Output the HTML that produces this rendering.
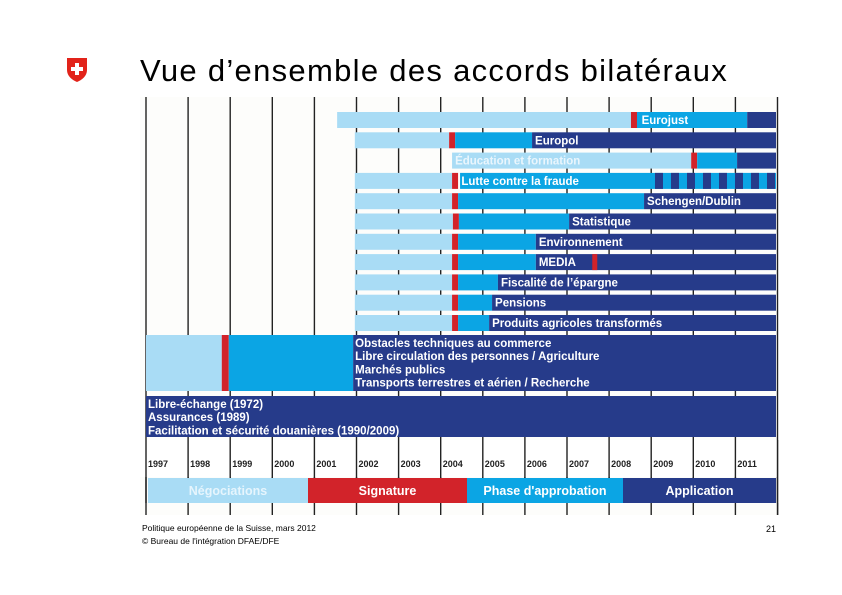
<!DOCTYPE html>
<html><head><meta charset="utf-8">
<style>
html,body{margin:0;padding:0;background:#fff;}
body{width:842px;height:595px;position:relative;overflow:hidden;font-family:"Liberation Sans",Arial,sans-serif;}
#title{position:absolute;left:140px;top:54px;font-size:31px;line-height:34px;color:#000;white-space:nowrap;letter-spacing:1.3px;}
.foot{position:absolute;font-size:8.5px;color:#000;white-space:nowrap;}
</style></head>
<body>
<svg style="position:absolute;left:66px;top:57px" width="22" height="26" viewBox="0 0 22 26">
<path d="M1 1 H21 V13 C21 19 16 23 11 25 C6 23 1 19 1 13 Z" fill="#e2231a"/>
<rect x="9" y="6" width="4" height="12" fill="#fff"/><rect x="5" y="10" width="12" height="4" fill="#fff"/>
</svg>
<div id="title">Vue d’ensemble des accords bilatéraux</div>
<svg id="chart" style="position:absolute;left:0;top:0" width="842" height="595"></svg>
<div class="foot" style="left:142px;top:523px">Politique européenne de la Suisse, mars 2012</div>
<div class="foot" style="left:142px;top:536px">© Bureau de l'intégration DFAE/DFE</div>
<div class="foot" style="left:766px;top:524px;font-size:9px">21</div>
<script>
// Data
const years = [1997,1998,1999,2000,2001,2002,2003,2004,2005,2006,2007,2008,2009,2010,2011];
const rowNames = ["Eurojust","Europol","Éducation et formation","Lutte contre la fraude","Schengen/Dublin","Statistique","Environnement","MEDIA","Fiscalité de l’épargne","Pensions","Produits agricoles transformés"];
// phase boundaries (decimal years)
const negStart  = [2001.54,2001.96,2004.27,2001.96,2001.96,2001.96,2001.96,2001.96,2001.96,2001.96,2001.96];
const signDate  = [2008.52,2004.2,2009.95,2004.27,2004.27,2004.29,2004.27,2004.27,2004.27,2004.27,2004.27];
const applStart = [2011.28,2006.17,2011.04,2012.0,2008.83,2007.05,2006.26,2006.26,2005.36,2005.22,2005.15];
const labelYear = [2008.7,2006.17,2004.27,2004.42,2008.83,2007.05,2006.26,2006.26,2005.36,2005.22,2005.15];
const lightLabel = [false,false,true,false,false,false,false,false,false,false,false];
const extraRed  = [null,null,null,null,null,null,null,2007.6,null,null,null];
const striped   = [false,false,false,true,false,false,false,false,false,false,false];
const stripeStart = 2009.09;
const bilat1 = {neg:1997.0, sign:1998.8, appl:1999.95+1.97};
const bilat1Lines = ["Obstacles techniques au commerce","Libre circulation des personnes / Agriculture","Marchés publics","Transports terrestres et aérien / Recherche"];
const oldLines = ["Libre-échange  (1972)","Assurances (1989)","Facilitation et sécurité douanières (1990/2009)"];
const legendLabels = ["Négociations","Signature","Phase d'approbation","Application"];

const C={light:"#a9dcf5",mid:"#0ba5e4",dark:"#263b8a",red:"#d2232a"};
const X0=146, PX=42.1, XEND=776;
const x = y => X0+(y-1997)*PX;
const rowTop = i => 112+i*20.3, rowH=16;
const svg=document.getElementById('chart');
const NS="http://www.w3.org/2000/svg";
function mk(tag,attrs,parent){const e=document.createElementNS(NS,tag);for(const k in attrs)e.setAttribute(k,attrs[k]);(parent||svg).appendChild(e);return e;}
function rect(x1,y,x2,h,fill,name){const r=mk('rect',{x:x1,y:y,width:Math.max(0,x2-x1),height:h,fill:fill});


return r;}
function txt(s,xx,yy,size,fill,weight,name,anchor){const t=mk('text',{x:xx,y:yy,'font-size':size,fill:fill,'font-weight':weight||'normal','font-family':'Liberation Sans, Arial, sans-serif','text-anchor':anchor||'start'});t.textContent=s;


return t;}

rect(140,97,XEND+2,418,"#fdfdfb","chart-background");
years.concat([2012]).forEach(yr=>{const l=mk('line',{x1:x(yr),x2:x(yr),y1:97,y2:515,stroke:"#222",'stroke-width':1.4});

});

rowNames.forEach((n,i)=>{
  const t=rowTop(i);
  const s=x(signDate[i]);
  rect(x(negStart[i]),t,s,rowH,C.light,"negotiation-bar");
  rect(s,t,s+6,rowH,C.red,"signature-mark");
  const aStart=s+6+(i===3?2:0);
  const aEnd=Math.min(x(applStart[i]),XEND);
  rect(aStart,t,aEnd,rowH,C.mid,"approval-bar");
  if(aEnd<XEND) rect(aEnd,t,XEND,rowH,C.dark,"application-bar");
  if(striped[i]){
    for(let k=0;k<8;k++){const sx=x(stripeStart)+k*16;rect(sx,t,Math.min(sx+8,XEND),rowH,C.dark,"provisional-stripe");}
  }
  if(extraRed[i]!==null){const e=x(extraRed[i]);rect(e,t,e+5,rowH,C.red,"extra-signature-mark");}
  txt(n,x(labelYear[i])+3,t+12,11.5,lightLabel[i]?"#eaf6fd":"#fff","bold","row-label");
});

rect(x(bilat1.neg),335,x(bilat1.sign),56,C.light,"bilat1-negotiation");
rect(x(bilat1.sign),335,x(bilat1.sign)+7,56,C.red,"bilat1-signature");
rect(x(bilat1.sign)+7,335,x(bilat1.appl),56,C.mid,"bilat1-approval");
rect(x(bilat1.appl),335,XEND,56,C.dark,"bilat1-application");
bilat1Lines.forEach((s,i)=>txt(s,x(bilat1.appl)+2,347+i*13.2,11.5,"#fff","bold","bilat1-label"));
rect(X0,396,XEND,41,C.dark,"old-agreements-bar");
oldLines.forEach((s,i)=>txt(s,X0+2,408+i*13.2,11.5,"#fff","bold","old-agreement-label"));

rect(140,440,XEND+2,37,"#fff","year-strip-bg");
years.concat([2012]).forEach(yr=>{const l=mk('line',{x1:x(yr),x2:x(yr),y1:440,y2:515,stroke:"#222",'stroke-width':1.4});

});
years.forEach(yr=>txt(String(yr),x(yr)+2,467,9,"#222","bold","year-label"));
const legColors=[C.light,C.red,C.mid,C.dark];
const legX=[148,308,467,623,XEND];
const legText=["#e6f5fd","#fff","#fff","#fff"];
legendLabels.forEach((s,i)=>{
  rect(legX[i],478,legX[i+1],25,legColors[i],"legend-"+i);
  txt(s,(legX[i]+legX[i+1])/2,495,12.5,legText[i],"bold","legend-label","middle");
});
rect(140,503,XEND+2,12,"#fdfdfb","bottom-strip");
[...years,2012].forEach(yr=>{const l=mk('line',{x1:x(yr),x2:x(yr),y1:503,y2:515,stroke:"#222",'stroke-width':1.4});

});
</script>
</body></html>
